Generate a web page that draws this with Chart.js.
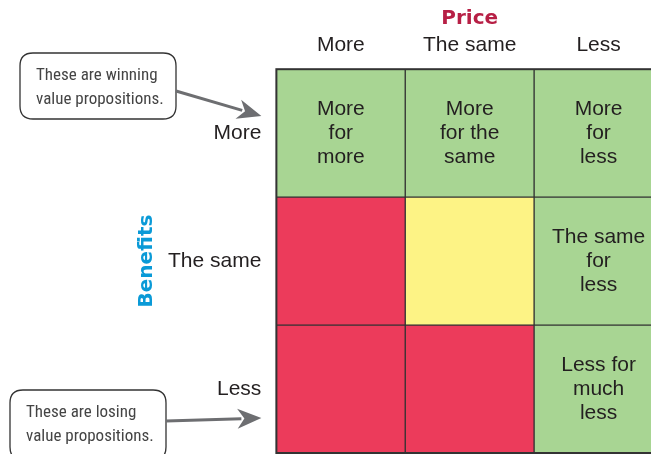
<!DOCTYPE html>
<html>
<head>
<meta charset="utf-8">
<script src="https://cdn.jsdelivr.net/npm/chart.js@4/dist/chart.umd.min.js"></script>
<style>
  html, body { margin: 0; padding: 0; background: #fff; overflow: hidden; }
  #wrap { width: 651px; height: 454px; overflow: hidden; }
</style>
</head>
<body>
<div id="wrap"><canvas id="myChart" width="672" height="454"></canvas></div>
<script>
// categories
var priceLabels = ['More', 'The same', 'Less'];
var benefitLabels = ['More', 'The same', 'Less']; // top to bottom

// each row is one unit tall, stacked from the bottom
var lessRow = [1, 1, 1];
var sameRow = [1, 1, 1];
var moreRow = [1, 1, 1];

// verdict per cell
var lessRowKind = ['lose', 'lose', 'win'];
var sameRowKind = ['lose', 'neutral', 'win'];
var moreRowKind = ['win', 'win', 'win'];

// cell texts
var lessRowText = ['', '', 'Less for\nmuch\nless'];
var sameRowText = ['', '', 'The same\nfor\nless'];
var moreRowText = ['More\nfor\nmore', 'More\nfor the\nsame', 'More\nfor\nless'];

var kindColor = { win: '#a8d593', neutral: '#fdf385', lose: '#ec3b5b' };
var fontMain = '"Liberation Sans", Arial, Helvetica, sans-serif';

function rowDataset(label, values, kinds, texts) {
    return {
        label: label,
        data: values,
        backgroundColor: kinds.map(function (k) { return kindColor[k]; }),
        borderColor: '#333333',
        borderWidth: 1,
        borderSkipped: false,
        barPercentage: 1,
        categoryPercentage: 1,
        cellText: texts
    };
}

// writes the text in the middle of each cell
var cellTextPlugin = {
    id: 'cellText',
    afterDatasetsDraw: function (chart) {
        var ctx = chart.ctx;
        ctx.save();
        ctx.font = '21px ' + fontMain;
        ctx.fillStyle = '#231f20';
        ctx.textAlign = 'center';
        ctx.textBaseline = 'middle';
        chart.data.datasets.forEach(function (ds, i) {
            var meta = chart.getDatasetMeta(i);
            meta.data.forEach(function (el, j) {
                var txt = ds.cellText[j];
                if (!txt) return;
                var lines = txt.split('\n');
                var cy = (el.y + el.base) / 2;
                var lh = 24;
                lines.forEach(function (line, k) {
                    ctx.fillText(line, el.x, cy + (k - (lines.length - 1) / 2) * lh);
                });
            });
        });
        // outer frame
        var a = chart.chartArea;
        ctx.strokeStyle = '#333333';
        ctx.lineWidth = 2;
        ctx.strokeRect(a.left, a.top, a.right - a.left, a.bottom - a.top);
        ctx.restore();
    }
};

function roundBox(ctx, x, y, w, h, r) {
    ctx.beginPath();
    ctx.moveTo(x + r, y);
    ctx.lineTo(x + w - r, y);
    ctx.quadraticCurveTo(x + w, y, x + w, y + r);
    ctx.lineTo(x + w, y + h - r);
    ctx.quadraticCurveTo(x + w, y + h, x + w - r, y + h);
    ctx.lineTo(x + r, y + h);
    ctx.quadraticCurveTo(x, y + h, x, y + h - r);
    ctx.lineTo(x, y + r);
    ctx.quadraticCurveTo(x, y, x + r, y);
    ctx.closePath();
}

function arrow(ctx, x1, y1, x2, y2) {
    var ang = Math.atan2(y2 - y1, x2 - x1);
    var headLen = 24, headW = 10;
    var bx = x2 - Math.cos(ang) * headLen, by = y2 - Math.sin(ang) * headLen;
    ctx.beginPath();
    ctx.moveTo(x1, y1);
    ctx.lineTo(bx + Math.cos(ang) * 4, by + Math.sin(ang) * 4);
    ctx.stroke();
    ctx.beginPath();
    ctx.moveTo(x2, y2);
    ctx.lineTo(bx - Math.sin(ang) * headW, by + Math.cos(ang) * headW);
    ctx.lineTo(bx + Math.cos(ang) * 7, by + Math.sin(ang) * 7);
    ctx.lineTo(bx + Math.sin(ang) * headW, by - Math.cos(ang) * headW);
    ctx.closePath();
    ctx.fill();
}

// the two callout notes with arrows
var calloutPlugin = {
    id: 'callouts',
    afterDraw: function (chart) {
        var ctx = chart.ctx;
        var a = chart.chartArea;
        var notes = [
            { x: 20, y: 53, w: 156, h: 66, lines: ['These are winning', 'value propositions.'], from: [176, 91], to: [a.left - 15, 116] },
            { x: 10, y: 390, w: 156, h: 70, lines: ['These are losing', 'value propositions.'], from: [166, 421], to: [a.left - 15, 418] }
        ];
        ctx.save();
        notes.forEach(function (n) {
            roundBox(ctx, n.x, n.y, n.w, n.h, 13);
            ctx.fillStyle = '#fff';
            ctx.fill();
            ctx.strokeStyle = '#333';
            ctx.lineWidth = 1.3;
            ctx.stroke();
            ctx.fillStyle = '#444';
            ctx.font = '17px "Liberation Sans Narrow", "Arial Narrow", "Roboto Condensed", sans-serif';
            ctx.textAlign = 'left';
            ctx.textBaseline = 'middle';
            n.lines.forEach(function (line, k) {
                ctx.fillText(line, n.x + 16, n.y + 23 + k * 24);
            });
            ctx.strokeStyle = '#6d6e71';
            ctx.fillStyle = '#6d6e71';
            ctx.lineWidth = 3;
            arrow(ctx, n.from[0], n.from[1], n.to[0], n.to[1]);
        });
        ctx.restore();
    }
};

var ctx = document.getElementById('myChart').getContext('2d');
var myChart = new Chart(ctx, {
    type: 'bar',
    data: {
        labels: priceLabels,
        datasets: [
            rowDataset('Less', lessRow, lessRowKind, lessRowText),
            rowDataset('The same', sameRow, sameRowKind, sameRowText),
            rowDataset('More', moreRow, moreRowKind, moreRowText)
        ]
    },
    options: {
        responsive: false,
        animation: false,
        layout: {
            padding: { top: 2, right: 9, bottom: 1, left: 129 }
        },
        scales: {
            x: {
                position: 'top',
                stacked: true,
                grid: { display: false, drawTicks: false },
                border: { display: false },
                ticks: {
                    padding: 11,
                    color: '#231f20',
                    font: { size: 21, family: fontMain }
                },
                title: {
                    display: true,
                    text: 'Price',
                    color: '#b71f45',
                    padding: { top: 5, bottom: -9 },
                    font: { size: 20, weight: 'bold', family: '"DejaVu Sans", sans-serif' }
                }
            },
            y: {
                stacked: true,
                min: 0,
                max: 3,
                grid: { display: false, drawTicks: false },
                border: { display: false },
                afterBuildTicks: function (scale) {
                    scale.ticks = [{ value: 0.5 }, { value: 1.5 }, { value: 2.5 }];
                },
                afterFit: function (scale) {
                    // labels sit in the middle of the rows, no room needed at the ends
                    scale.paddingTop = 0;
                    scale.paddingBottom = 0;
                },
                ticks: {
                    padding: 15,
                    autoSkip: false,
                    color: '#231f20',
                    font: { size: 21, family: fontMain },
                    callback: function (value) {
                        return benefitLabels[2 - Math.floor(value)];
                    }
                },
                title: {
                    display: true,
                    text: 'Benefits',
                    color: '#0a9ad7',
                    padding: { top: 6, bottom: -6 },
                    font: { size: 20, weight: 'bold', family: '"DejaVu Sans", sans-serif' }
                }
            }
        },
        plugins: {
            legend: { display: false },
            tooltip: { enabled: false }
        }
    },
    plugins: [cellTextPlugin, calloutPlugin]
});
</script>
</body>
</html>
